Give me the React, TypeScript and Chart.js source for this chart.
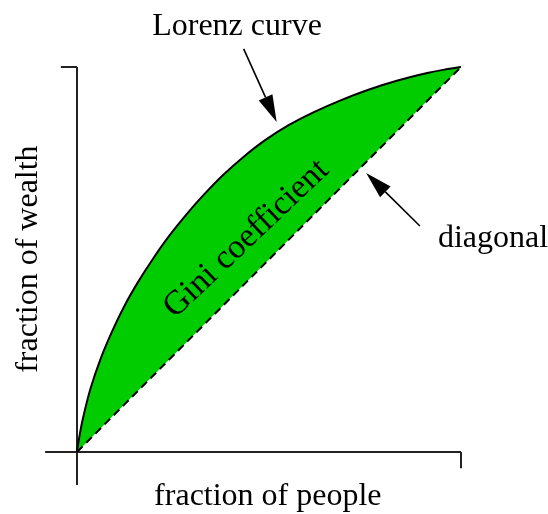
import React, { useEffect, useRef } from "react";
import { Chart, registerables } from "chart.js";

Chart.register(...registerables);

// Lorenz curve (fraction of people -> fraction of wealth)
const people = [0, 0.0012, 0.0053, 0.015, 0.0352, 0.0605, 0.09, 0.1225, 0.1588, 0.198, 0.2395, 0.284, 0.331, 0.3805, 0.4335, 0.49, 0.551, 0.617, 0.6865, 0.759, 0.835, 0.915, 0.9653, 1];
const wealth = [0, 0.0088, 0.0347, 0.085, 0.1648, 0.2395, 0.31, 0.3775, 0.4412, 0.502, 0.5605, 0.616, 0.669, 0.7195, 0.7665, 0.81, 0.849, 0.883, 0.9135, 0.941, 0.965, 0.985, 0.9947, 1];

const xTitle = "fraction of people";
const yTitle = "fraction of wealth";
const curveLabel = "Lorenz curve";
const diagLabel = "diagonal";
const areaLabel = "Gini coefficient";

const FONT = "32px 'Liberation Serif', 'Times New Roman', serif";
const AREA_FONT = "34px 'Liberation Serif', 'Times New Roman', serif";

export default function App() {
  const ref = useRef<HTMLCanvasElement | null>(null);

  useEffect(() => {
    if (!ref.current) return;
    const annot = {
      id: "giniAnnot",
      beforeDatasetsDraw(chart: any) {
        const { ctx, scales } = chart;
        const x = scales.x, y = scales.y;
        const X = (v: number) => x.getPixelForValue(v);
        const Y = (v: number) => y.getPixelForValue(v);
        ctx.save();
        ctx.strokeStyle = "#222";
        ctx.lineWidth = 2;
        ctx.lineCap = "butt";
        ctx.beginPath();
        // y axis
        ctx.moveTo(X(0), Y(-0.086));
        ctx.lineTo(X(0), Y(1));
        // top tick
        ctx.moveTo(X(0), Y(1));
        ctx.lineTo(X(-0.042), Y(1));
        // x axis
        ctx.moveTo(X(-0.083), Y(0));
        ctx.lineTo(X(1), Y(0));
        // right tick
        ctx.moveTo(X(1), Y(0));
        ctx.lineTo(X(1), Y(-0.042));
        ctx.stroke();
        ctx.restore();
      },
      afterDatasetsDraw(chart: any) {
        const { ctx, scales } = chart;
        const x = scales.x, y = scales.y;
        const X = (v: number) => x.getPixelForValue(v);
        const Y = (v: number) => y.getPixelForValue(v);
        ctx.save();
        const arrow = (tx: number, ty: number, hx: number, hy: number) => {
          const x1 = X(tx), y1 = Y(ty), x2 = X(hx), y2 = Y(hy);
          const ang = Math.atan2(y2 - y1, x2 - x1);
          const L = 27, W = 7.5;
          const bx = x2 - L * Math.cos(ang), by = y2 - L * Math.sin(ang);
          ctx.strokeStyle = "#000";
          ctx.lineWidth = 1.6;
          ctx.beginPath();
          ctx.moveTo(x1, y1);
          ctx.lineTo(bx, by);
          ctx.stroke();
          ctx.fillStyle = "#000";
          ctx.beginPath();
          ctx.moveTo(x2, y2);
          ctx.lineTo(bx + W * Math.sin(ang), by - W * Math.cos(ang));
          ctx.lineTo(bx - W * Math.sin(ang), by + W * Math.cos(ang));
          ctx.closePath();
          ctx.fill();
        };
        arrow(0.434, 1.047, 0.52, 0.857);
        arrow(0.893, 0.587, 0.753, 0.725);

        ctx.fillStyle = "#000";
        ctx.font = FONT;
        ctx.textBaseline = "alphabetic";
        ctx.textAlign = "center";
        ctx.fillText(curveLabel, X(0.4167), Y(1.083));
        ctx.fillText(xTitle, X(0.497), Y(-0.138));
        ctx.textAlign = "left";
        ctx.fillText(diagLabel, X(0.94), Y(0.532));

        ctx.save();
        ctx.font = AREA_FONT;
        ctx.translate(X(0.457), Y(0.537));
        ctx.rotate((-43.5 * Math.PI) / 180);
        ctx.textAlign = "center";
        ctx.fillText(areaLabel, 0, 0);
        ctx.restore();

        ctx.save();
        ctx.translate(X(-0.104), Y(0.501));
        ctx.rotate(-Math.PI / 2);
        ctx.textAlign = "center";
        ctx.fillText(yTitle, 0, 0);
        ctx.restore();
        ctx.restore();
      },
    };

    const chart = new Chart(ref.current, {
      type: "scatter",
      data: {
        datasets: [
          {
            label: "Lorenz curve",
            data: people.map((p, i) => ({ x: p, y: wealth[i] })),
            showLine: true,
            tension: 0.4,
            borderColor: "#000",
            borderWidth: 2,
            backgroundColor: "#00cc00",
            fill: 1,
            pointRadius: 0,
            order: 2,
          } as any,
          {
            label: "diagonal",
            data: people.map((p) => ({ x: p, y: p })),
            showLine: true,
            borderColor: "#000",
            borderWidth: 2,
            borderDash: [8, 5],
            backgroundColor: "transparent",
            fill: false,
            pointRadius: 0,
            order: 1,
          } as any,
        ],
      },
      options: {
        responsive: false,
        animation: false,
        events: [],
        layout: { padding: { left: 38.6, right: 48.6, top: 28.5, bottom: 23.5 } },
        scales: {
          x: { type: "linear", min: -0.1, max: 1.1, display: false },
          y: { type: "linear", min: -0.1, max: 1.1, display: false },
        },
        plugins: {
          legend: { display: false },
          title: { display: false },
          tooltip: { enabled: false },
        },
      },
      plugins: [annot],
    });
    return () => chart.destroy();
  }, []);

  return (
    <div style={{ position: "absolute", left: 0, top: 0, width: 548, height: 514 }}>
      <canvas ref={ref} width={548} height={514} style={{ width: 548, height: 514, display: "block" }} />
    </div>
  );
}
